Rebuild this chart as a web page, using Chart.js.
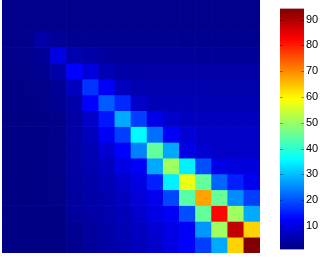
<!DOCTYPE html>
<html>
<head>
<meta charset="utf-8">
<script src="https://cdn.jsdelivr.net/npm/chart.js@4.4.1/dist/chart.umd.min.js"></script>
<style>
    body { margin: 0; background: #fff; }
    #wrap { position: relative; width: 324px; height: 258px; }
    #heatWrap { position: absolute; left: 0; top: 0; width: 324px; height: 258px; }
    #barWrap { position: absolute; left: 280px; top: 0; width: 44px; height: 258px; }
</style>
</head>
<body>
<div id="wrap">
    <div id="heatWrap"><canvas id="heatChart"></canvas></div>
    <div id="barWrap"><canvas id="colorBar"></canvas></div>
</div>
<script>
// Colonne e righe della matrice (16 x 16)
const columns = ['1','2','3','4','5','6','7','8','9','10','11','12','13','14','15','16'];
const rows = ['1','2','3','4','5','6','7','8','9','10','11','12','13','14','15','16'];

// Valori, riga per riga (dall'alto in basso)
const row01 = [1.8, 2.0, 2.0, 2.0, 2.0, 2.0, 2.0, 2.0, 2.0, 2.0, 2.0, 2.0, 2.0, 2.0, 2.0, 2.0];
const row02 = [1.8, 2.0, 2.1, 2.1, 2.0, 2.0, 2.0, 2.0, 2.0, 2.0, 2.0, 2.0, 2.0, 2.0, 2.0, 2.0];
const row03 = [1.8, 2.0, 4.4, 3.4, 2.6, 2.5, 2.5, 2.5, 2.5, 2.5, 2.5, 2.4, 2.4, 2.4, 2.4, 2.4];
const row04 = [1.8, 2.0, 3.2, 9.9, 5.2, 4.4, 3.8, 3.4, 3.4, 3.3, 3.3, 3.3, 3.2, 3.2, 3.2, 3.2];
const row05 = [1.7, 1.8, 2.5, 4.8, 12.6, 9.4, 5.7, 4.6, 4.4, 4.4, 4.3, 4.3, 4.2, 4.2, 4.2, 4.2];
const row06 = [1.6, 1.7, 1.9, 3.2, 6.6, 17.2, 11.8, 6.6, 5.3, 5.2, 5.1, 5.1, 5.0, 5.0, 5.0, 5.0];
const row07 = [1.5, 1.6, 1.8, 2.6, 4.8, 12.5, 20.8, 16.2, 7.5, 6.0, 5.9, 5.8, 5.8, 5.8, 5.8, 5.8];
const row08 = [1.5, 1.5, 1.6, 2.0, 4.2, 7.5, 14.4, 28.1, 18.1, 10.3, 7.9, 6.8, 6.6, 6.6, 6.6, 6.6];
const row09 = [1.4, 1.5, 1.6, 1.9, 4.2, 6.4, 11.8, 18.1, 35.6, 22.7, 11.8, 8.9, 7.5, 7.4, 7.4, 7.4];
const row10 = [1.4, 1.5, 1.6, 1.8, 4.1, 5.6, 8.4, 12.4, 24.4, 45.0, 28.0, 10.2, 8.4, 7.5, 7.5, 7.5];
const row11 = [1.4, 1.4, 1.5, 1.8, 4.1, 5.3, 6.9, 9.9, 11.8, 28.0, 50.5, 34.6, 19.7, 10.3, 9.6, 9.4];
const row12 = [1.4, 1.4, 1.5, 1.7, 3.9, 4.8, 5.9, 7.9, 10.2, 15.3, 34.6, 57.4, 45.0, 21.7, 15.3, 11.1];
const row13 = [1.3, 1.4, 1.5, 1.7, 3.8, 4.6, 5.4, 6.9, 8.9, 10.9, 19.0, 44.0, 67.7, 45.5, 25.3, 18.1];
const row14 = [1.3, 1.4, 1.4, 1.6, 3.8, 4.4, 5.1, 6.2, 7.9, 9.9, 11.8, 19.7, 45.0, 82.3, 50.5, 28.1];
const row15 = [1.3, 1.3, 1.4, 1.5, 2.4, 3.8, 4.7, 5.7, 6.9, 8.4, 10.4, 11.8, 26.3, 50.5, 88.3, 63.3];
const row16 = [1.3, 1.3, 1.3, 1.4, 2.2, 3.4, 4.2, 5.2, 6.4, 7.5, 9.9, 12.6, 18.1, 28.1, 63.3, 94.3];
const matrix = [row01, row02, row03, row04, row05, row06, row07, row08,
                row09, row10, row11, row12, row13, row14, row15, row16];

// Limiti della scala colori e tacche della barra
const colorMin = 0.88;
const colorMax = 94.3;
const colorTicks = [10, 20, 30, 40, 50, 60, 70, 80, 90];

// Mappa colori "jet" (come MATLAB)
function jet(t) {
    t = Math.max(0, Math.min(1, t));
    const c = x => Math.round(255 * Math.max(0, Math.min(1, x)));
    const r = c(1.5 - Math.abs(4 * t - 3));
    const g = c(1.5 - Math.abs(4 * t - 2));
    const b = c(1.5 - Math.abs(4 * t - 1));
    return `rgb(${r}, ${g}, ${b})`;
}

function valueColor(v) {
    return jet((v - colorMin) / (colorMax - colorMin));
}

// Heatmap: una serie di barre flottanti per ogni riga
function createHeatmap() {
    const datasets = rows.map((name, r) => ({
        label: name,
        data: columns.map(() => [r, r + 1]),
        backgroundColor: matrix[r].map(valueColor),
        borderWidth: 0,
        grouped: false,
        barPercentage: 1,
        categoryPercentage: 1
    }));

    const ctx = document.getElementById('heatChart').getContext('2d');
    new Chart(ctx, {
        type: 'bar',
        data: { labels: columns, datasets: datasets },
        options: {
            responsive: true,
            maintainAspectRatio: false,
            animation: false,
            layout: { padding: { left: 2, top: 0, right: 64, bottom: 5 } },
            scales: {
                x: { display: false },
                y: { display: false, reverse: true, min: 0, max: rows.length }
            },
            plugins: {
                legend: { display: false },
                tooltip: { enabled: false }
            }
        }
    });
}

// Tacche interne sulla barra colori
const innerTicks = {
    id: 'innerTicks',
    afterDatasetsDraw(chart) {
        const y = chart.scales.y;
        const area = chart.chartArea;
        const ctx = chart.ctx;
        ctx.save();
        ctx.strokeStyle = 'rgba(0, 0, 0, 0.35)';
        ctx.lineWidth = 1;
        colorTicks.forEach(v => {
            const py = Math.round(y.getPixelForValue(v)) + 0.5;
            ctx.beginPath();
            ctx.moveTo(area.left, py);
            ctx.lineTo(area.left + 3, py);
            ctx.moveTo(area.right - 3, py);
            ctx.lineTo(area.right, py);
            ctx.stroke();
        });
        ctx.restore();
    }
};

// Barra colori con gradiente jet
function createColorBar() {
    const ctx = document.getElementById('colorBar').getContext('2d');
    new Chart(ctx, {
        type: 'bar',
        data: {
            labels: [''],
            datasets: [{
                data: [[colorMin, colorMax]],
                backgroundColor: function(context) {
                    const chart = context.chart;
                    const area = chart.chartArea;
                    if (!area) return 'rgb(0, 0, 128)';
                    const grad = chart.ctx.createLinearGradient(0, area.bottom, 0, area.top);
                    for (let i = 0; i <= 32; i++) {
                        grad.addColorStop(i / 32, jet(i / 32));
                    }
                    return grad;
                },
                borderWidth: 0,
                barPercentage: 1,
                categoryPercentage: 1
            }]
        },
        options: {
            responsive: true,
            maintainAspectRatio: false,
            animation: false,
            layout: { padding: { left: 0, top: 0, right: 0, bottom: 5 } },
            scales: {
                x: { display: false },
                y: {
                    position: 'right',
                    min: colorMin,
                    max: colorMax,
                    grid: { display: false, drawTicks: false },
                    border: { display: false },
                    afterBuildTicks: scale => {
                        scale.ticks = colorTicks.map(v => ({ value: v }));
                    },
                    afterFit: scale => { scale.width = 20; },
                    ticks: {
                        padding: 2,
                        color: '#000',
                        font: { family: 'Liberation Sans', size: 11 }
                    }
                }
            },
            plugins: {
                legend: { display: false },
                tooltip: { enabled: false }
            }
        },
        plugins: [innerTicks]
    });
}

document.addEventListener('DOMContentLoaded', () => {
    createHeatmap();
    createColorBar();
});
</script>
</body>
</html>
